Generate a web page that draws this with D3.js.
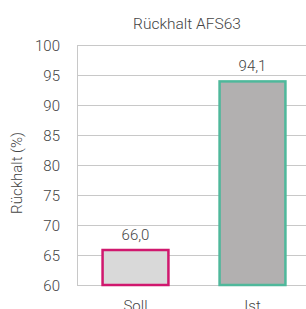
<!DOCTYPE html>
<html>
<head>
<meta charset="utf-8">
<script src="https://cdn.jsdelivr.net/npm/d3@7"></script>
<style>
    body { margin: 0; background: #fff; }
    svg { display: block; font-family: Roboto, "Noto Sans", sans-serif; }
</style>
</head>
<body>
<svg id="chart" width="306" height="309"></svg>
<script>
(function() {

    var categories = ['Soll', 'Ist'],
        values = [66.0, 94.1],
        yTicks = [60, 65, 70, 75, 80, 85, 90, 95, 100],
        fills = ['#d9d9d9', '#b2b0b0'],
        strokes = ['#d0186e', '#4fb89b'];

    var W = 306,
        left = 77,
        top = 45,
        bottom = 285,
        right = 311,
        txt = '#444';

    var svg = d3.select('#chart');

    var x = d3.scaleBand()
        .domain(categories)
        .range([left, right])
        .paddingInner(0.42)
        .paddingOuter(0.21);

    var y = d3.scaleLinear()
        .domain([60, 100])
        .range([bottom, top]);

    // gridlines
    svg.append('g')
        .selectAll('line')
        .data(yTicks)
        .enter()
        .append('line')
        .attr('x1', left)
        .attr('x2', W)
        .attr('y1', function(d) { return y(d) + 0.5; })
        .attr('y2', function(d) { return y(d) + 0.5; })
        .attr('stroke', '#c8c8c8')
        .attr('stroke-width', 1);

    // left axis line
    svg.append('line')
        .attr('x1', left + 0.5)
        .attr('x2', left + 0.5)
        .attr('y1', top)
        .attr('y2', bottom)
        .attr('stroke', '#c8c8c8');

    // y tick labels
    svg.append('g')
        .selectAll('text')
        .data(yTicks)
        .enter()
        .append('text')
        .attr('x', 60)
        .attr('y', function(d) { return y(d) + 5.5; })
        .attr('text-anchor', 'end')
        .attr('font-size', 15)
        .attr('font-weight', 300)
        .attr('fill', txt)
        .text(function(d) { return d; });

    // bars
    var data = categories.map(function(c, i) {
        return { c: c, v: values[i], f: fills[i], s: strokes[i] };
    });

    svg.append('g')
        .selectAll('rect')
        .data(data)
        .enter()
        .append('rect')
        .attr('x', function(d) { return x(d.c) + 1; })
        .attr('y', function(d) { return y(d.v) + 1; })
        .attr('width', x.bandwidth() - 2)
        .attr('height', function(d) { return y(60) - y(d.v) - 1; })
        .attr('fill', function(d) { return d.f; })
        .attr('stroke', function(d) { return d.s; })
        .attr('stroke-width', 2.5);

    // value labels
    svg.append('g')
        .selectAll('text')
        .data(data)
        .enter()
        .append('text')
        .attr('x', function(d) { return x(d.c) + x.bandwidth() / 2; })
        .attr('y', function(d) { return y(d.v) - 9; })
        .attr('text-anchor', 'middle')
        .attr('font-size', 15)
        .attr('font-weight', 300)
        .attr('fill', txt)
        .text(function(d) { return d.v.toFixed(1).replace('.', ','); });

    // category labels
    svg.append('g')
        .selectAll('text')
        .data(categories)
        .enter()
        .append('text')
        .attr('x', function(d) { return x(d) + x.bandwidth() / 2; })
        .attr('y', 311)
        .attr('text-anchor', 'middle')
        .attr('font-size', 15)
        .attr('font-weight', 300)
        .attr('fill', txt)
        .text(function(d) { return d; });

    // title
    svg.append('text')
        .attr('x', 187)
        .attr('y', 29)
        .attr('text-anchor', 'middle')
        .attr('font-size', 15.5)
        .attr('font-weight', 300)
        .attr('fill', txt)
        .text('Rückhalt AFS63');

    // y axis title
    svg.append('text')
        .attr('transform', 'translate(22,173) rotate(-90)')
        .attr('text-anchor', 'middle')
        .attr('font-size', 15)
        .attr('font-weight', 300)
        .attr('fill', txt)
        .text('Rückhalt (%)');

})();
</script>
</body>
</html>
